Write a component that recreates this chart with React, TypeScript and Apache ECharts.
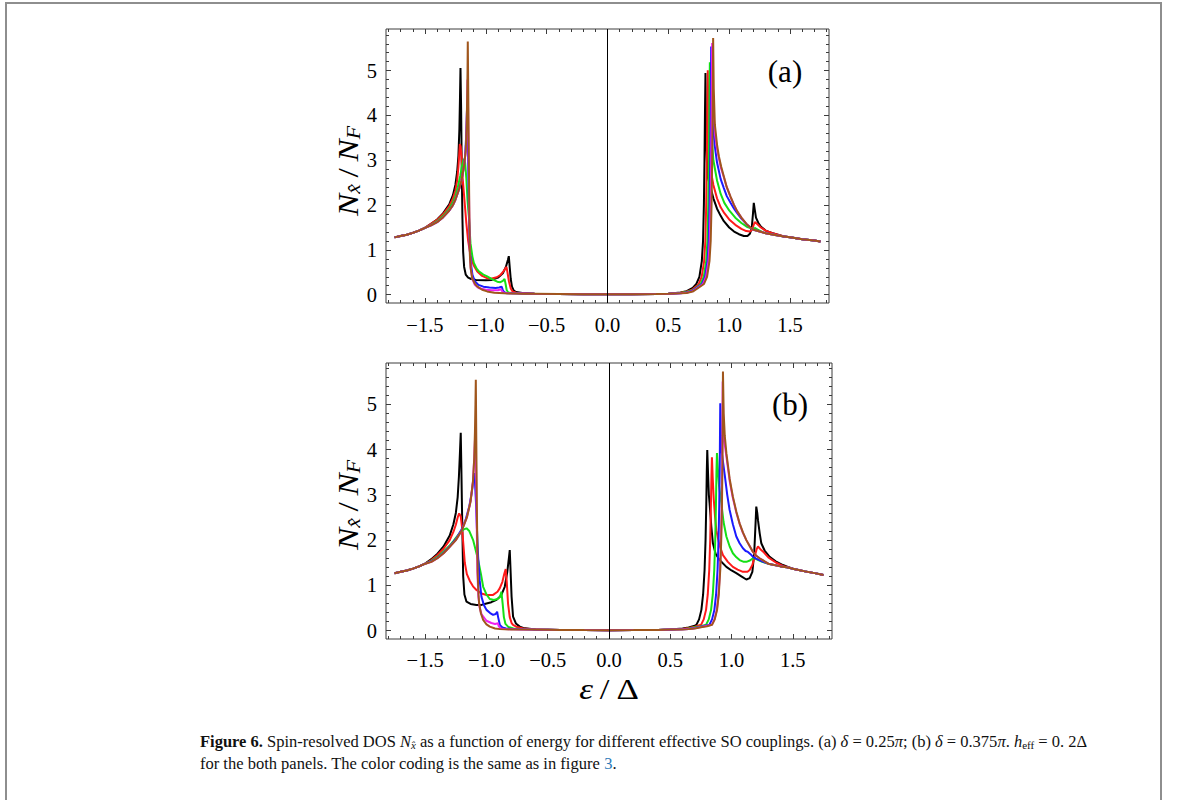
import React, { useEffect, useRef } from 'react';
import * as echarts from 'echarts';

// ---------- tick values ----------
const xMajorTicks = [-1.5, -1, -0.5, 0, 0.5, 1, 1.5];
const xMinorTicks = [-1.8, -1.7, -1.6, -1.4, -1.3, -1.2, -1.1, -0.9, -0.8, -0.7, -0.6, -0.4, -0.3, -0.2, -0.1, 0.1, 0.2, 0.3, 0.4, 0.6, 0.7, 0.8, 0.9, 1.1, 1.2, 1.3, 1.4, 1.6, 1.7, 1.8];
const yMajorTicks = [0, 1, 2, 3, 4, 5];
const yMinorTicks = [0.2, 0.4, 0.6, 0.8, 1.2, 1.4, 1.6, 1.8, 2.2, 2.4, 2.6, 2.8, 3.2, 3.4, 3.6, 3.8, 4.2, 4.4, 4.6, 4.8, 5.2, 5.4, 5.6, 5.8];

// ---------- shared segments (tails / flat gap region) ----------
const tailLA = [[-1.75, 1.28], [-1.7, 1.31], [-1.65, 1.34], [-1.6, 1.38], [-1.55, 1.43], [-1.5, 1.49]];
const midA = [[-0.6, 0.02], [-0.4, 0.015], [-0.2, 0.012], [0, 0.01], [0.2, 0.012], [0.4, 0.016], [0.5, 0.022]];
const tailRA = [[1.5, 1.28], [1.6, 1.24], [1.7, 1.21], [1.75, 1.19]];
const tailLB = [[-1.75, 1.27], [-1.7, 1.3], [-1.65, 1.33], [-1.6, 1.37], [-1.55, 1.42], [-1.5, 1.48]];
const midB = [[-0.6, 0.025], [-0.4, 0.018], [-0.2, 0.014], [0, 0.012], [0.2, 0.014], [0.4, 0.018], [0.5, 0.025]];
const tailRB = [[1.5, 1.37], [1.6, 1.31], [1.7, 1.26], [1.75, 1.23]];

// ---------- panel (a): delta = 0.25 pi ----------
const blackA = [...tailLA,
  [-1.45, 1.58], [-1.4, 1.68], [-1.35, 1.82], [-1.3, 2.02], [-1.27, 2.22], [-1.25, 2.45], [-1.235, 2.75], [-1.225, 3.1], [-1.217, 3.7], [-1.212, 4.4], [-1.208, 5.06], [-1.203, 4.2], [-1.198, 2.9], [-1.192, 1.7], [-1.186, 0.95], [-1.178, 0.62], [-1.165, 0.45], [-1.145, 0.38], [-1.12, 0.35], [-1.08, 0.33], [-1.0, 0.32], [-0.95, 0.33], [-0.9, 0.38], [-0.86, 0.48], [-0.835, 0.62], [-0.818, 0.78], [-0.811, 0.86], [-0.803, 0.6], [-0.795, 0.35], [-0.785, 0.18], [-0.77, 0.09], [-0.75, 0.06], [-0.7, 0.04],
  ...midA,
  [0.6, 0.05], [0.65, 0.08], [0.7, 0.15], [0.73, 0.24], [0.755, 0.4], [0.775, 0.75], [0.785, 1.2], [0.792, 2.0], [0.797, 3.0], [0.801, 4.1], [0.805, 4.95], [0.81, 3.6], [0.818, 2.9], [0.826, 2.6], [0.846, 2.4], [0.87, 2.15], [0.9, 1.92], [0.93, 1.76], [0.956, 1.64], [1.0, 1.5], [1.04, 1.41], [1.08, 1.35], [1.12, 1.31], [1.15, 1.31], [1.17, 1.36], [1.185, 1.48], [1.195, 1.8], [1.202, 2.05], [1.21, 1.9], [1.22, 1.72], [1.24, 1.6], [1.26, 1.52], [1.3, 1.43], [1.35, 1.38], [1.4, 1.34], [1.45, 1.3],
  ...tailRA];
const redA = [...tailLA,
  [-1.45, 1.58], [-1.4, 1.67], [-1.35, 1.8], [-1.3, 1.98], [-1.27, 2.15], [-1.25, 2.32], [-1.235, 2.55], [-1.225, 2.85], [-1.218, 3.15], [-1.213, 3.36], [-1.206, 3.3], [-1.2, 3.1], [-1.19, 2.6], [-1.175, 2.1], [-1.16, 1.6], [-1.145, 1.2], [-1.126, 0.88], [-1.1, 0.66], [-1.07, 0.52], [-1.03, 0.42], [-0.99, 0.37], [-0.95, 0.36], [-0.91, 0.39], [-0.88, 0.44], [-0.855, 0.52], [-0.838, 0.59], [-0.83, 0.62], [-0.822, 0.5], [-0.81, 0.3], [-0.795, 0.14], [-0.78, 0.07], [-0.75, 0.045], [-0.7, 0.03],
  ...midA,
  [0.6, 0.045], [0.65, 0.07], [0.7, 0.12], [0.75, 0.24], [0.774, 0.4], [0.794, 0.75], [0.804, 1.2], [0.811, 2.0], [0.816, 3.0], [0.82, 4.1], [0.824, 5.01], [0.829, 3.9], [0.836, 3.2], [0.846, 2.8], [0.87, 2.45], [0.9, 2.15], [0.93, 1.95], [0.96, 1.82], [1.0, 1.68], [1.05, 1.56], [1.1, 1.47], [1.14, 1.42], [1.17, 1.41], [1.19, 1.45], [1.2, 1.55], [1.21, 1.62], [1.23, 1.58], [1.26, 1.5], [1.3, 1.43], [1.35, 1.38], [1.4, 1.34], [1.45, 1.3],
  ...tailRA];
const greenA = [...tailLA,
  [-1.45, 1.56], [-1.4, 1.64], [-1.35, 1.76], [-1.3, 1.92], [-1.27, 2.07], [-1.25, 2.2], [-1.23, 2.4], [-1.21, 2.65], [-1.195, 2.88], [-1.185, 3.0], [-1.178, 3.03], [-1.17, 2.95], [-1.16, 2.6], [-1.15, 2.1], [-1.139, 1.75], [-1.126, 1.15], [-1.11, 0.85], [-1.098, 0.71], [-1.075, 0.58], [-1.057, 0.52], [-1.02, 0.45], [-0.989, 0.41], [-0.95, 0.35], [-0.906, 0.29], [-0.88, 0.28], [-0.86, 0.31], [-0.846, 0.35], [-0.838, 0.25], [-0.828, 0.1], [-0.815, 0.05], [-0.78, 0.035], [-0.7, 0.025],
  ...midA,
  [0.6, 0.04], [0.65, 0.06], [0.7, 0.1], [0.766, 0.24], [0.791, 0.4], [0.811, 0.75], [0.821, 1.2], [0.828, 2.0], [0.833, 3.0], [0.837, 4.1], [0.841, 5.19], [0.846, 4.3], [0.854, 3.6], [0.87, 3.0], [0.9, 2.55], [0.93, 2.25], [0.96, 2.05], [1.0, 1.88], [1.05, 1.72], [1.1, 1.6], [1.15, 1.51], [1.18, 1.48], [1.2, 1.47], [1.21, 1.49], [1.23, 1.46], [1.27, 1.4], [1.3, 1.37], [1.4, 1.32], [1.45, 1.3],
  ...tailRA];
const blueA = [...tailLA,
  [-1.45, 1.55], [-1.4, 1.62], [-1.35, 1.73], [-1.3, 1.88], [-1.27, 2.0], [-1.25, 2.12], [-1.22, 2.35], [-1.2, 2.55], [-1.18, 2.85], [-1.17, 3.1], [-1.162, 3.5], [-1.157, 3.9], [-1.153, 4.24], [-1.148, 3.6], [-1.143, 2.6], [-1.137, 1.6], [-1.13, 0.95], [-1.12, 0.65], [-1.11, 0.45], [-1.09, 0.3], [-1.06, 0.22], [-1.02, 0.18], [-0.97, 0.16], [-0.92, 0.15], [-0.89, 0.16], [-0.87, 0.18], [-0.862, 0.12], [-0.852, 0.06], [-0.83, 0.035], [-0.78, 0.03], [-0.7, 0.025],
  ...midA,
  [0.6, 0.035], [0.65, 0.05], [0.7, 0.09], [0.777, 0.24], [0.802, 0.4], [0.822, 0.75], [0.832, 1.2], [0.839, 2.0], [0.844, 3.0], [0.848, 4.1], [0.852, 5.54], [0.857, 4.6], [0.865, 3.9], [0.88, 3.35], [0.9, 2.95], [0.93, 2.58], [0.956, 2.38], [0.98, 2.2], [1.011, 2.05], [1.04, 1.92], [1.066, 1.82], [1.1, 1.7], [1.148, 1.56], [1.175, 1.5], [1.2, 1.45], [1.25, 1.41], [1.3, 1.37], [1.4, 1.32], [1.45, 1.3],
  ...tailRA];
const magentaA = [...tailLA,
  [-1.45, 1.55], [-1.4, 1.62], [-1.35, 1.73], [-1.3, 1.88], [-1.27, 2.0], [-1.25, 2.12], [-1.22, 2.35], [-1.2, 2.55], [-1.18, 2.85], [-1.165, 3.2], [-1.158, 3.7], [-1.153, 4.3], [-1.15, 4.8], [-1.146, 4.2], [-1.141, 3.0], [-1.136, 1.8], [-1.13, 0.9], [-1.122, 0.55], [-1.11, 0.35], [-1.09, 0.22], [-1.06, 0.15], [-1.0, 0.11], [-0.95, 0.1], [-0.9, 0.1], [-0.875, 0.12], [-0.866, 0.08], [-0.855, 0.04], [-0.8, 0.03], [-0.7, 0.025],
  ...midA,
  [0.6, 0.032], [0.65, 0.045], [0.7, 0.08], [0.785, 0.24], [0.81, 0.4], [0.83, 0.75], [0.84, 1.2], [0.847, 2.0], [0.852, 3.0], [0.856, 4.1], [0.86, 5.62], [0.865, 4.7], [0.873, 4.0], [0.885, 3.55], [0.9, 3.25], [0.93, 2.85], [0.956, 2.62], [0.98, 2.4], [1.011, 2.18], [1.04, 2.0], [1.066, 1.86], [1.1, 1.72], [1.148, 1.56], [1.175, 1.5], [1.2, 1.45], [1.25, 1.41], [1.3, 1.37], [1.4, 1.32], [1.45, 1.3],
  ...tailRA];
const brownA = [...tailLA,
  [-1.45, 1.55], [-1.4, 1.62], [-1.35, 1.73], [-1.3, 1.88], [-1.27, 2.0], [-1.25, 2.12], [-1.22, 2.35], [-1.2, 2.55], [-1.18, 2.85], [-1.165, 3.2], [-1.158, 3.7], [-1.153, 4.4], [-1.15, 5.0], [-1.148, 5.65], [-1.144, 4.5], [-1.14, 3.2], [-1.136, 2.0], [-1.131, 0.9], [-1.125, 0.6], [-1.112, 0.37], [-1.09, 0.25], [-1.071, 0.186], [-1.03, 0.11], [-0.989, 0.074], [-0.93, 0.045], [-0.85, 0.03], [-0.75, 0.025], [-0.7, 0.022],
  ...midA,
  [0.6, 0.03], [0.65, 0.04], [0.7, 0.07], [0.793, 0.24], [0.818, 0.4], [0.838, 0.75], [0.848, 1.2], [0.855, 2.0], [0.86, 3.0], [0.864, 4.1], [0.868, 5.73], [0.873, 4.6], [0.882, 3.8], [0.9, 3.35], [0.915, 3.09], [0.935, 2.85], [0.956, 2.64], [0.98, 2.4], [1.011, 2.19], [1.04, 2.0], [1.066, 1.86], [1.1, 1.72], [1.148, 1.56], [1.175, 1.5], [1.2, 1.45], [1.25, 1.41], [1.3, 1.37], [1.4, 1.32], [1.45, 1.3],
  ...tailRA];

// ---------- panel (b): delta = 0.375 pi ----------
const blackB = [...tailLB,
  [-1.45, 1.58], [-1.4, 1.7], [-1.35, 1.86], [-1.3, 2.1], [-1.27, 2.35], [-1.25, 2.6], [-1.235, 2.95], [-1.225, 3.4], [-1.217, 3.9], [-1.21, 4.37], [-1.205, 3.6], [-1.198, 2.4], [-1.19, 1.2], [-1.18, 0.8], [-1.163, 0.64], [-1.13, 0.59], [-1.082, 0.57], [-1.04, 0.57], [-1.0, 0.6], [-0.96, 0.63], [-0.918, 0.68], [-0.88, 0.78], [-0.851, 0.97], [-0.83, 1.3], [-0.815, 1.65], [-0.81, 1.78], [-0.803, 1.3], [-0.795, 0.75], [-0.783, 0.31], [-0.76, 0.16], [-0.728, 0.09], [-0.7, 0.06],
  ...midB,
  [0.6, 0.05], [0.65, 0.07], [0.7, 0.11], [0.713, 0.13], [0.735, 0.25], [0.754, 0.46], [0.768, 0.8], [0.78, 1.34], [0.788, 2.0], [0.794, 2.8], [0.798, 3.5], [0.802, 3.99], [0.808, 3.5], [0.815, 3.0], [0.821, 2.81], [0.835, 2.3], [0.848, 1.93], [0.87, 1.7], [0.903, 1.56], [0.958, 1.41], [1.0, 1.33], [1.039, 1.27], [1.08, 1.2], [1.121, 1.13], [1.148, 1.16], [1.17, 1.3], [1.185, 1.7], [1.195, 2.3], [1.202, 2.74], [1.21, 2.6], [1.216, 2.44], [1.23, 2.15], [1.243, 1.93], [1.27, 1.77], [1.311, 1.63], [1.36, 1.53], [1.42, 1.45], [1.46, 1.41],
  ...tailRB];
const redB = [...tailLB,
  [-1.45, 1.56], [-1.4, 1.67], [-1.35, 1.81], [-1.3, 2.0], [-1.27, 2.18], [-1.25, 2.34], [-1.235, 2.5], [-1.223, 2.59], [-1.21, 2.52], [-1.2, 2.3], [-1.19, 1.95], [-1.177, 1.5], [-1.16, 1.25], [-1.136, 1.1], [-1.11, 0.98], [-1.082, 0.9], [-1.04, 0.82], [-1.0, 0.79], [-0.946, 0.79], [-0.91, 0.86], [-0.891, 0.94], [-0.87, 1.08], [-0.855, 1.25], [-0.843, 1.36], [-0.835, 1.1], [-0.824, 0.6], [-0.81, 0.3], [-0.795, 0.17], [-0.783, 0.13], [-0.75, 0.08], [-0.7, 0.05],
  ...midB,
  [0.6, 0.04], [0.65, 0.06], [0.7, 0.09], [0.751, 0.13], [0.773, 0.25], [0.792, 0.46], [0.806, 0.8], [0.818, 1.34], [0.826, 2.0], [0.832, 2.8], [0.836, 3.4], [0.84, 3.83], [0.846, 3.4], [0.855, 2.9], [0.866, 2.5], [0.876, 2.22], [0.9, 1.9], [0.93, 1.67], [0.97, 1.52], [1.011, 1.41], [1.05, 1.35], [1.093, 1.3], [1.13, 1.3], [1.148, 1.34], [1.17, 1.45], [1.19, 1.65], [1.205, 1.8], [1.216, 1.86], [1.235, 1.8], [1.256, 1.75], [1.3, 1.62], [1.365, 1.5], [1.42, 1.43], [1.46, 1.4],
  ...tailRB];
const greenB = [...tailLB,
  [-1.45, 1.54], [-1.4, 1.63], [-1.35, 1.75], [-1.3, 1.88], [-1.27, 1.98], [-1.25, 2.05], [-1.22, 2.15], [-1.19, 2.23], [-1.163, 2.26], [-1.14, 2.2], [-1.109, 2.0], [-1.09, 1.8], [-1.068, 1.56], [-1.045, 1.25], [-1.027, 0.97], [-1.0, 0.8], [-0.973, 0.7], [-0.94, 0.68], [-0.91, 0.7], [-0.891, 0.74], [-0.878, 0.86], [-0.868, 0.6], [-0.858, 0.3], [-0.845, 0.15], [-0.82, 0.08], [-0.78, 0.05], [-0.7, 0.035],
  ...midB,
  [0.6, 0.035], [0.65, 0.05], [0.7, 0.075], [0.75, 0.1], [0.792, 0.13], [0.814, 0.25], [0.833, 0.46], [0.847, 0.8], [0.859, 1.34], [0.867, 2.0], [0.873, 2.8], [0.877, 3.5], [0.881, 3.92], [0.888, 3.6], [0.898, 3.2], [0.917, 2.81], [0.935, 2.4], [0.958, 2.08], [0.985, 1.86], [1.011, 1.71], [1.04, 1.62], [1.066, 1.56], [1.1, 1.52], [1.121, 1.52], [1.15, 1.55], [1.175, 1.6], [1.19, 1.6], [1.21, 1.57], [1.25, 1.52], [1.3, 1.48], [1.4, 1.42], [1.45, 1.4],
  ...tailRB];
const blueB = [...tailLB,
  [-1.45, 1.53], [-1.4, 1.61], [-1.35, 1.72], [-1.3, 1.86], [-1.25, 2.02], [-1.2, 2.25], [-1.17, 2.45], [-1.14, 2.75], [-1.12, 3.05], [-1.108, 3.3], [-1.101, 3.48], [-1.094, 3.3], [-1.085, 2.8], [-1.077, 2.2], [-1.068, 1.63], [-1.055, 1.1], [-1.041, 0.75], [-1.02, 0.56], [-1.0, 0.46], [-0.97, 0.39], [-0.946, 0.35], [-0.925, 0.37], [-0.913, 0.42], [-0.905, 0.3], [-0.891, 0.13], [-0.87, 0.07], [-0.84, 0.05], [-0.78, 0.035], [-0.7, 0.03],
  ...midB,
  [0.6, 0.03], [0.65, 0.04], [0.7, 0.06], [0.75, 0.09], [0.819, 0.13], [0.841, 0.25], [0.86, 0.46], [0.874, 0.8], [0.886, 1.34], [0.894, 2.0], [0.9, 2.8], [0.904, 3.7], [0.908, 5.02], [0.913, 4.3], [0.922, 3.9], [0.944, 3.45], [0.965, 3.0], [0.984, 2.67], [1.011, 2.35], [1.039, 2.08], [1.066, 1.93], [1.093, 1.82], [1.115, 1.76], [1.134, 1.74], [1.155, 1.69], [1.175, 1.63], [1.2, 1.59], [1.25, 1.53], [1.3, 1.48], [1.4, 1.42], [1.45, 1.4],
  ...tailRB];
const magentaB = [...tailLB,
  [-1.45, 1.52], [-1.4, 1.6], [-1.35, 1.71], [-1.3, 1.85], [-1.25, 2.0], [-1.2, 2.22], [-1.16, 2.5], [-1.13, 2.85], [-1.11, 3.3], [-1.1, 3.8], [-1.094, 4.2], [-1.09, 4.47], [-1.085, 3.6], [-1.08, 2.4], [-1.074, 1.3], [-1.066, 0.75], [-1.055, 0.5], [-1.04, 0.36], [-1.0, 0.22], [-0.96, 0.17], [-0.93, 0.15], [-0.915, 0.16], [-0.908, 0.17], [-0.9, 0.1], [-0.885, 0.05], [-0.85, 0.035], [-0.78, 0.03], [-0.7, 0.025],
  ...midB,
  [0.6, 0.03], [0.65, 0.04], [0.7, 0.055], [0.75, 0.08], [0.8, 0.11], [0.839, 0.13], [0.861, 0.25], [0.88, 0.46], [0.894, 0.8], [0.906, 1.34], [0.914, 2.0], [0.92, 2.8], [0.924, 3.7], [0.928, 5.5], [0.933, 4.6], [0.94, 4.2], [0.958, 3.85], [0.985, 3.3], [1.011, 2.93], [1.04, 2.6], [1.066, 2.36], [1.093, 2.16], [1.121, 2.0], [1.15, 1.86], [1.175, 1.74], [1.2, 1.66], [1.229, 1.6], [1.27, 1.53], [1.3, 1.48], [1.4, 1.42], [1.45, 1.4],
  ...tailRB];
const brownB = [...tailLB,
  [-1.45, 1.52], [-1.4, 1.6], [-1.35, 1.71], [-1.3, 1.85], [-1.25, 2.0], [-1.2, 2.22], [-1.16, 2.5], [-1.13, 2.85], [-1.11, 3.3], [-1.1, 3.8], [-1.094, 4.4], [-1.09, 5.0], [-1.087, 5.54], [-1.083, 4.2], [-1.078, 2.6], [-1.072, 1.3], [-1.065, 0.8], [-1.06, 0.6], [-1.045, 0.38], [-1.027, 0.24], [-1.0, 0.14], [-0.973, 0.09], [-0.93, 0.05], [-0.89, 0.035], [-0.8, 0.028], [-0.7, 0.025],
  ...midB,
  [0.6, 0.025], [0.65, 0.035], [0.7, 0.05], [0.75, 0.075], [0.8, 0.1], [0.841, 0.13], [0.863, 0.25], [0.882, 0.46], [0.896, 0.8], [0.908, 1.34], [0.916, 2.0], [0.922, 2.8], [0.926, 3.7], [0.93, 5.72], [0.936, 4.8], [0.945, 4.3], [0.958, 3.92], [0.985, 3.35], [1.011, 2.96], [1.04, 2.62], [1.066, 2.37], [1.093, 2.17], [1.121, 2.0], [1.15, 1.86], [1.175, 1.74], [1.2, 1.66], [1.229, 1.6], [1.27, 1.53], [1.3, 1.48], [1.4, 1.42], [1.45, 1.4],
  ...tailRB];

const curveNames = ['black', 'red', 'green', 'blue', 'magenta', 'brown'];
const panelA = [blackA, redA, greenA, blueA, magentaA, brownA];
const panelB = [blackB, redB, greenB, blueB, magentaB, brownB];

// ---------- styles ----------
const curveColors: Record<string, string> = {
  black: '#000000', red: '#ff1a1a', green: '#16e016', blue: '#1a1aff', magenta: '#f020f0', brown: '#a0561c',
};
const SERIF = '"Liberation Serif", "Times New Roman", serif';
const FRAME = '#3c3c3c';

const fmtX = (v: number) => (v < 0 ? '\u2212' : '') + Math.abs(v).toFixed(1);
const fmtY = (v: number) => String(Math.round(v));

function makeAxes(dim: 'x' | 'y', gridIndex: number, min: number, max: number, labelMargin: number) {
  const pos = dim === 'x' ? ['bottom', 'top'] : ['left', 'right'];
  const major = dim === 'x' ? xMajorTicks : yMajorTicks;
  const minor = dim === 'x' ? xMinorTicks : yMinorTicks;
  const base: any = {
    type: 'value', gridIndex, min, max,
    splitLine: { show: false }, splitArea: { show: false },
    axisLine: { show: false, onZero: false },
    minorTick: { show: false },
  };
  const tick = (vals: number[], len: number) => ({
    show: true, inside: true, length: len, customValues: vals,
    lineStyle: { color: FRAME, width: 1 },
  });
  return [
    {
      ...base, position: pos[0], axisTick: tick(major, 5),
      axisLabel: {
        show: true, customValues: major, formatter: dim === 'x' ? fmtX : fmtY,
        fontFamily: SERIF, fontSize: 20.5, color: '#000', margin: labelMargin,
      },
    },
    { ...base, position: pos[0], axisTick: tick(minor, 3), axisLabel: { show: false } },
    { ...base, position: pos[1], axisTick: tick(major, 5), axisLabel: { show: false } },
    { ...base, position: pos[1], axisTick: tick(minor, 3), axisLabel: { show: false } },
  ];
}

export default function App() {
  const ref = useRef<HTMLDivElement>(null);

  useEffect(() => {
    if (!ref.current) return;
    const chart = echarts.init(ref.current, undefined, { renderer: 'svg' });

    const series: any[] = [];
    [panelA, panelB].forEach((panel, p) => {
      panel.forEach((data, i) => {
        const name = curveNames[i];
        const s: any = {
          type: 'line', name: name + (p ? ' (b)' : ' (a)'),
          xAxisIndex: p * 4, yAxisIndex: p * 4,
          data, showSymbol: false, symbol: 'none', silent: true,
          lineStyle: { color: curveColors[name], width: 2 },
          itemStyle: { color: curveColors[name] },
          clip: true,
        };
        if (i === 0) {
          s.markLine = {
            silent: true, symbol: ['none', 'none'], label: { show: false },
            lineStyle: { color: '#000', width: 1, type: 'solid' },
            data: [{ xAxis: 0 }],
          };
        }
        series.push(s);
      });
    });

    const richMath = {
      i: { fontFamily: SERIF, fontStyle: 'italic', fontSize: 29, fill: '#000' },
      r: { fontFamily: SERIF, fontSize: 29, fill: '#000' },
      s: { fontFamily: SERIF, fontStyle: 'italic', fontSize: 19, fill: '#000', padding: [12, 0, 0, 0] },
    };
    const yLabel = (cy: number) => ({
      type: 'text', x: 348, y: cy, rotation: Math.PI / 2, scaleX: 1.15,
      style: {
        text: '{i|N}{s|x\u0302}{r|\u2009/\u2009}{i|N}{s|F}', rich: richMath,
        align: 'center', verticalAlign: 'middle', fill: '#000',
      },
    });

    const capBase = { fontFamily: SERIF, fontSize: 16.5, fill: '#111' };
    const capRich = {
      b: { fontFamily: SERIF, fontSize: 16.5, fontWeight: 'bold', fill: '#111' },
      i: { fontFamily: SERIF, fontSize: 16.5, fontStyle: 'italic', fill: '#111' },
      si: { fontFamily: SERIF, fontSize: 11, fontStyle: 'italic', fill: '#111', padding: [8, 0, 0, 0] },
      sr: { fontFamily: SERIF, fontSize: 11, fill: '#111', padding: [8, 0, 0, 0] },
      link: { fontFamily: SERIF, fontSize: 16.5, fill: '#2a7ab8' },
    };

    const option: any = {
      animation: false,
      backgroundColor: '#ffffff',
      grid: [
        { left: 386, top: 29, width: 443, height: 274, show: true, borderColor: FRAME, borderWidth: 1, backgroundColor: 'transparent', containLabel: false },
        { left: 386, top: 363, width: 446, height: 276, show: true, borderColor: FRAME, borderWidth: 1, backgroundColor: 'transparent', containLabel: false },
      ],
      xAxis: [
        ...makeAxes('x', 0, -1.82, 1.82, 11),
        ...makeAxes('x', 1, -1.82, 1.82, 10),
      ],
      yAxis: [
        ...makeAxes('y', 0, -0.185, 5.93, 9),
        ...makeAxes('y', 1, -0.183, 5.91, 9),
      ],
      series,
      graphic: [
        { type: 'rect', silent: true, shape: { x: 6, y: 3, width: 1155, height: 830 }, style: { fill: 'none', stroke: '#8e8e8e', lineWidth: 2 } },
        { type: 'text', x: 785, y: 71, style: { text: '(a)', fontFamily: SERIF, fontSize: 31, fill: '#000', align: 'center', verticalAlign: 'middle' } },
        { type: 'text', x: 790, y: 404, style: { text: '(b)', fontFamily: SERIF, fontSize: 31, fill: '#000', align: 'center', verticalAlign: 'middle' } },
        yLabel(171),
        yLabel(505),
        {
          type: 'text', x: 609, y: 689, scaleX: 1.2,
          style: { text: '{i|\u03b5}{r|\u2009/\u2009\u0394}', rich: richMath, align: 'center', verticalAlign: 'middle', fill: '#000' },
        },
        {
          type: 'text', x: 200, y: 741,
          style: {
            ...capBase,
            text: '{b|Figure 6.} Spin-resolved DOS {i|N}{si|x\u0302} as a function of energy for different effective SO couplings. (a) {i|\u03b4} = 0.25{i|\u03c0}; (b) {i|\u03b4} = 0.375{i|\u03c0}. {i|h}{sr|eff} = 0. 2\u0394',
            rich: capRich, align: 'left', verticalAlign: 'middle',
          },
        },
        {
          type: 'text', x: 200, y: 763,
          style: {
            ...capBase,
            text: 'for the both panels. The color coding is the same as in figure {link|3}.',
            rich: capRich, align: 'left', verticalAlign: 'middle',
          },
        },
      ],
    };

    chart.setOption(option);
    return () => chart.dispose();
  }, []);

  return (
    <div
      ref={ref}
      style={{ position: 'fixed', left: 0, top: 0, width: 1179, height: 800, background: '#fff' }}
    />
  );
}
